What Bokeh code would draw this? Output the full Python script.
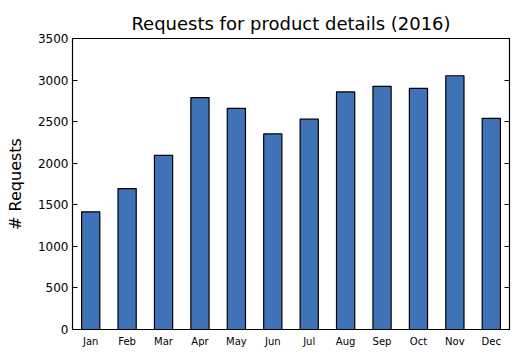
from bokeh.plotting import figure
from bokeh.models import ColumnDataSource, LinearAxis, FixedTicker, Range1d
from bokeh.embed import file_html
from bokeh.resources import INLINE

months = ["Jan", "Feb", "Mar", "Apr", "May", "Jun", "Jul", "Aug", "Sep", "Oct", "Nov", "Dec"]
requests = [1415, 1695, 2095, 2790, 2660, 2352, 2530, 2857, 2925, 2900, 3052, 2540]
y_ticks = [0, 500, 1000, 1500, 2000, 2500, 3000, 3500]

FONT = "DejaVu Sans"

src = ColumnDataSource(dict(month=months, req=requests))

p = figure(width=517, height=354, x_range=months, y_range=Range1d(0, 3500),
           output_backend="svg", toolbar_location=None,
           min_border_left=72, min_border_right=8, min_border_top=38, min_border_bottom=25,
           title="Requests for product details (2016)")
p.x_range.range_padding = 0

p.vbar(x="month", top="req", width=0.5, source=src,
       fill_color="#4072B8", line_color="black", line_width=1.2)

p.title.text_font = FONT
p.title.text_font_size = "18px"
p.title.text_font_style = "normal"
p.title.align = "center"
p.title.text_color = "black"

p.xgrid.visible = False
p.ygrid.visible = False
p.outline_line_color = "black"
p.outline_line_width = 1.2
p.background_fill_color = "white"
p.border_fill_color = "white"

yax = p.yaxis[0]
yax.ticker = FixedTicker(ticks=y_ticks)
yax.major_tick_in = 5
yax.major_tick_out = 0
yax.minor_tick_line_color = None
yax.major_label_text_font = FONT
yax.major_label_text_font_size = "12px"
yax.major_label_text_color = "black"
yax.major_label_standoff = 4
yax.axis_label = "# Requests"
yax.axis_label_text_font = FONT
yax.axis_label_text_font_size = "16px"
yax.axis_label_text_font_style = "normal"
yax.axis_label_text_color = "black"
yax.axis_label_standoff = 10
yax.axis_line_color = "black"

xax = p.xaxis[0]
xax.major_tick_in = 0
xax.major_tick_out = 0
xax.major_label_text_font = FONT
xax.major_label_text_font_size = "10px"
xax.major_label_text_color = "black"
xax.major_label_standoff = 6
xax.axis_line_color = "black"

rax = LinearAxis(ticker=FixedTicker(ticks=y_ticks))
rax.major_tick_in = 5
rax.major_tick_out = 0
rax.minor_tick_line_color = None
rax.major_label_overrides = {t: "" for t in y_ticks}
rax.major_label_standoff = 0
rax.axis_line_color = "black"
p.add_layout(rax, "right")

open("out.html", "w").write(file_html(p, INLINE))
